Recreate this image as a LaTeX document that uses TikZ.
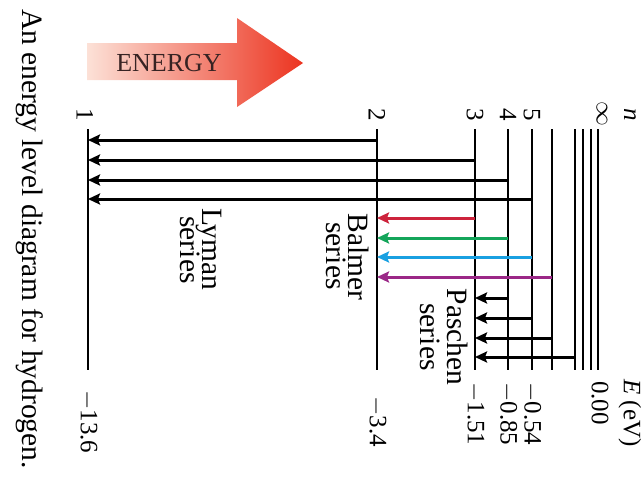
\documentclass[tikz,border=0pt]{standalone}
\usepackage{fontspec}
\setmainfont{Liberation Serif}
\usetikzlibrary{arrows.meta}
\definecolor{balred}{RGB}{205,35,60}
\definecolor{balgreen}{RGB}{20,165,90}
\definecolor{balblue}{RGB}{25,160,225}
\definecolor{balpurple}{RGB}{155,40,135}
\definecolor{arrowL}{RGB}{252,225,215}
\definecolor{arrowR}{RGB}{236,52,32}
\definecolor{energytext}{RGB}{55,35,35}
\begin{document}
\begin{tikzpicture}[x=1pt,y=-1pt,
  levelline/.style={line width=1.3pt},
  trans/.style={line width=3pt,-{Stealth[length=12pt,width=11pt,inset=2pt]}},
  rotlbl/.style={rotate=-90,inner sep=0pt},
  numlbl/.style={rotlbl,font=\fontsize{25}{28}\selectfont},
  wordlbl/.style={rotlbl,font=\fontsize{29.5}{32}\selectfont,anchor=base}]
\useasboundingbox (0,0) rectangle (643,477);
% energy arrow
\shade[left color=arrowL,right color=arrowR]
  (87,43) -- (237,43) -- (237,18) -- (303,63) -- (237,107) -- (237,80) -- (87,80) -- cycle;
\node[font=\fontsize{26}{30}\selectfont,text=energytext,inner sep=0pt] (energy) at (169,63) {ENERGY};
% levels
\foreach \name/\x in {L1/88,L2/377,L3/475,L4/508,L5/532,L6/552,L7/575,L8/583,L9/591,Linf/598}{
  \coordinate (\name t) at (\x,129);
  \coordinate (\name b) at (\x,370);
  \draw[levelline] (\name t) -- (\name b);
}
% top labels
\node[numlbl] (n1) at (85,115) {1};
\node[numlbl] (n2) at (377,115) {2};
\node[numlbl] (n3) at (475,115) {3};
\node[numlbl] (n4) at (508,115) {4};
\node[numlbl] (n5) at (532,115) {5};
\node[numlbl] (ninf) at (602,114) {$\infty$};
\node[numlbl] (nlab) at (630,115) {\textit{n}};
% energy values
\node[numlbl,anchor=west] (e1) at (L1b |- 0,390) {$-$13.6};
\node[numlbl,anchor=west] (e2) at (L2b |- 0,396) {$-$3.4};
\node[numlbl,anchor=west] (e3) at (L3b |- 0,382) {$-$1.51};
\node[numlbl,anchor=west] (e4) at (L4b |- 0,382) {$-$0.85};
\node[numlbl,anchor=west] (e5) at (L5b |- 0,382) {$-$0.54};
\node[numlbl,anchor=west] (einf) at (600,381) {0.00};
\node[numlbl,anchor=west] (eunit) at (630,379) {\textit{E} (eV)};
% Lyman
\foreach \src/\y in {L2/140,L3/160,L4/180,L5/199}{
  \draw[trans] (\src t |- 0,\y) -- (L1t |- 0,\y);
}
% Balmer
\draw[trans,balred] (L3t |- 0,218) -- (L2t |- 0,218);
\draw[trans,balgreen] (L4t |- 0,238) -- (L2t |- 0,238);
\draw[trans,balblue] (L5t |- 0,257) -- (L2t |- 0,257);
\draw[trans,balpurple] (L6t |- 0,277) -- (L2t |- 0,277);
% Paschen
\foreach \src/\y in {L4/298,L5/318,L6/338,L7/357}{
  \draw[trans] (\src t |- 0,\y) -- (L3t |- 0,\y);
}
% series labels
\node[wordlbl] (lyman) at (202,249) {Lyman};
\node[wordlbl] (lymans) at (180,250) {series};
\node[wordlbl] (balmer) at (348,257) {Balmer};
\node[wordlbl] (balmers) at (326,256) {series};
\node[wordlbl] (paschen) at (447,337) {Paschen};
\node[wordlbl] (paschens) at (420,337) {series};
% caption
\node[wordlbl] (caption) at (22,239) {An energy level diagram for hydrogen.};
\end{tikzpicture}
\end{document}
